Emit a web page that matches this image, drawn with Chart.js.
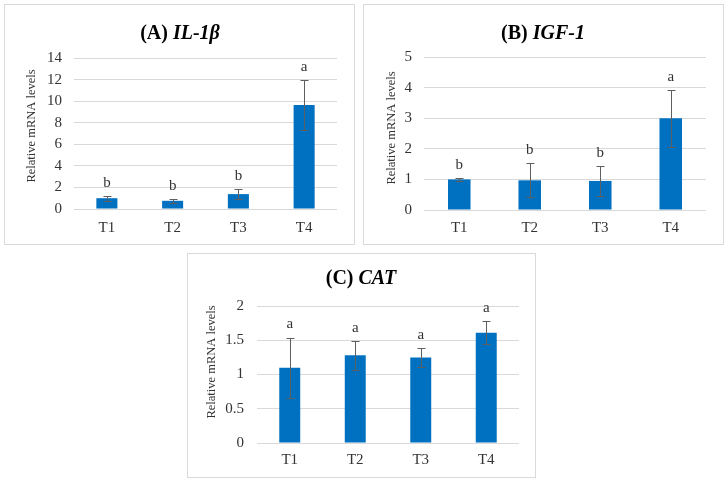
<!DOCTYPE html>
<html><head><meta charset="utf-8">
<script src="https://cdn.jsdelivr.net/npm/chart.js@4.4.1/dist/chart.umd.min.js"></script>
<style>
body{margin:0;background:#fff;width:727px;height:482px;position:relative;overflow:hidden;font-family:'Liberation Serif','Times New Roman',serif;}
.panel{position:absolute;border:1px solid #d9d9d9;box-sizing:border-box;}
.wrap{position:absolute;}
.title{position:absolute;font-weight:bold;font-size:20px;color:#000;white-space:nowrap;transform:translate(-50%,-50%);line-height:1;}
</style></head><body>
<div class="panel" style="left:4px;top:4px;width:351px;height:241px"></div>
<div class="panel" style="left:363px;top:4px;width:361px;height:241px"></div>
<div class="panel" style="left:187px;top:253px;width:349px;height:225px"></div>
<div class="wrap" style="left:4px;top:4px;width:350px;height:240px"><canvas id="cA"></canvas></div>
<div class="wrap" style="left:363px;top:4px;width:360px;height:240px"><canvas id="cB"></canvas></div>
<div class="wrap" style="left:187px;top:253px;width:348px;height:224px"><canvas id="cC"></canvas></div>
<div class="title" style="left:180px;top:32px">(A) <i>IL-1β</i></div>
<div class="title" style="left:543px;top:32px">(B) <i>IGF-1</i></div>
<div class="title" style="left:361px;top:277px">(C) <i>CAT</i></div>
<script>
const categories = ['T1', 'T2', 'T3', 'T4'];
const yAxisTitle = 'Relative mRNA levels';

const il1bMean = [1.0, 0.76, 1.38, 9.65];
const il1bSD = [0.24, 0.16, 0.48, 2.3];
const il1bLetters = ['b', 'b', 'b', 'a'];

const igf1Mean = [1.0, 0.97, 0.95, 3.0];
const igf1SD = [0.06, 0.55, 0.5, 0.93];
const igf1Letters = ['b', 'b', 'b', 'a'];

const catMean = [1.1, 1.28, 1.25, 1.61];
const catSD = [0.44, 0.21, 0.14, 0.17];
const catLetters = ['a', 'a', 'a', 'a'];

const FONT = "'Liberation Serif', 'Times New Roman', serif";
const TXT = '#333333';

const errorPlugin = {
  id: 'errLetters',
  afterDatasetsDraw(chart, args, opts) {
    const ctx = chart.ctx;
    const y = chart.scales.y;
    const meta = chart.getDatasetMeta(0);
    ctx.save();
    meta.data.forEach((bar, i) => {
      const m = opts.means[i], s = opts.sds[i];
      const yt = y.getPixelForValue(m + s);
      const yb = y.getPixelForValue(m - s);
      const x = Math.round(bar.x) + 0.5;
      ctx.strokeStyle = '#5f5f5f';
      ctx.lineWidth = 1;
      ctx.beginPath();
      ctx.moveTo(x, Math.round(yt) + 0.5); ctx.lineTo(x, Math.round(yb) + 0.5);
      ctx.moveTo(x - 4, Math.round(yt) + 0.5); ctx.lineTo(x + 4, Math.round(yt) + 0.5);
      ctx.moveTo(x - 4, Math.round(yb) + 0.5); ctx.lineTo(x + 4, Math.round(yb) + 0.5);
      ctx.stroke();
      ctx.fillStyle = TXT;
      ctx.font = '15px ' + FONT;
      ctx.textAlign = 'center';
      ctx.textBaseline = 'middle';
      ctx.fillText(opts.letters[i], bar.x, yt - 13);
    });
    ctx.fillStyle = TXT;
    ctx.font = '12.5px ' + FONT;
    ctx.translate(opts.tx, opts.ty);
    ctx.rotate(-Math.PI / 2);
    ctx.textAlign = 'center';
    ctx.textBaseline = 'middle';
    ctx.fillText(yAxisTitle, 0, 0);
    ctx.restore();
  }
};

function makeChart(id, means, sds, letters, yMax, yStep, g) {
  new Chart(document.getElementById(id), {
    type: 'bar',
    data: {
      labels: categories,
      datasets: [{
        data: means,
        backgroundColor: '#0070C0',
        borderWidth: 0,
        barPercentage: 0.32,
        categoryPercentage: 1
      }]
    },
    options: {
      responsive: true,
      maintainAspectRatio: false,
      animation: false,
      layout: { padding: { left: 0, top: g.top, right: g.right, bottom: 0 } },
      plugins: {
        legend: { display: false },
        tooltip: { enabled: false },
        title: { display: false },
        errLetters: { means: means, sds: sds, letters: letters, tx: g.tx, ty: g.ty }
      },
      scales: {
        x: {
          grid: { display: false, drawTicks: false },
          border: { display: false },
          ticks: { color: TXT, font: { family: FONT, size: 15 }, padding: g.xpad },
          afterFit(s) { s.height = g.xh; }
        },
        y: {
          min: 0, max: yMax,
          grid: { color: '#d9d9d9', drawTicks: false, lineWidth: 1 },
          border: { display: false },
          ticks: {
            stepSize: yStep, color: TXT, font: { family: FONT, size: 15 }, padding: g.ypad,
            callback: (v) => String(Math.round(v * 100) / 100)
          },
          afterFit(s) { s.width = g.yw; }
        }
      }
    },
    plugins: [errorPlugin]
  });
}

makeChart('cA', il1bMean, il1bSD, il1bLetters, 14, 2,
  { top: 54, right: 350 - 333, xh: 240 - 205, yw: 70, xpad: 10, ypad: 12, tx: 28, ty: 122 });
makeChart('cB', igf1Mean, igf1SD, igf1Letters, 5, 1,
  { top: 53, right: 360 - 343, xh: 240 - 206, yw: 61, xpad: 9, ypad: 12, tx: 29, ty: 124 });
makeChart('cC', catMean, catSD, catLetters, 2, 0.5,
  { top: 53, right: 348 - 332, xh: 224 - 190, yw: 70, xpad: 8, ypad: 13, tx: 25, ty: 109 });
</script>
</body></html>
